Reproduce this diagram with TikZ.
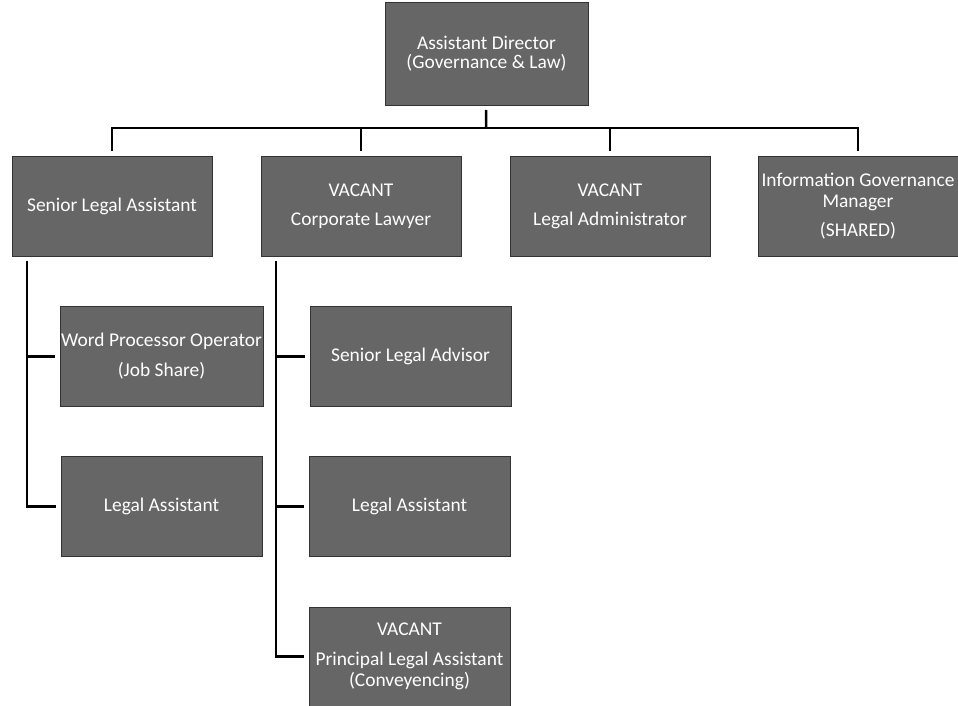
\documentclass[tikz,border=0pt]{standalone}
\usepackage{fontspec}
\setmainfont{Carlito}
\def \BoxW {200bp}
\def \BoxH {100bp}
\tikzstyle{post}=[
  draw=black!80,
  fill=black!60,
  text=white,
  minimum width=\BoxW,
  minimum height=\BoxH,
  inner sep=1bp,
  outer sep=5bp,
  align=center,
  font=\fontsize{19.5}{19}\selectfont
]
\tikzstyle{link}=[
  draw=black,
  line width=2.5bp
]

\begin{document}
\begin{tikzpicture}[x=1bp,y=-1bp]
          \useasboundingbox (0,0) rectangle (958,706);
          \def \yA {206}
          \def \yB {356.5}
          \def \yC {506.5}
          \def \yD {656.5}

          % head of the team
          \node[post, minimum width=203bp, minimum height=103bp] (ad) at (486.5, 53.5)
            {Assistant Director\\(Governance \& Law)};

          % first row
          \node[post] (sla) at (112, \yA) {Senior Legal Assistant};
          \node[post] (cl) at (361, \yA) {VACANT\\[10bp]Corporate Lawyer};
          \node[post] (lad) at (610, \yA) {VACANT\\[10bp]Legal Administrator};
          \node[post] (igm) at (858, \yA) {Information Governance\\[2bp]Manager\\[10bp](SHARED)};

          % under the senior legal assistant
          \node[post, minimum width=201bp] (wpo) at (161.5, \yB) {Word Processor Operator\\[11bp](Job Share)};
          \node[post, minimum width=201bp] (la1) at (161.5, \yC) {Legal Assistant};

          % under the corporate lawyer
          \node[post, minimum width=201bp] (slad) at (410.5, \yB) {Senior Legal Advisor};
          \node[post, minimum width=201bp] (la2) at (409.5, \yC) {Legal Assistant};
          \node[post, minimum width=201bp, minimum height=99bp] (pla) at (409.5, \yD)
            {VACANT\\[11bp]Principal Legal Assistant\\[2bp](Conveyencing)};

          \coordinate (hub) at (486, 128);
          \draw[link] (ad) -- (hub);
          \foreach \n in {sla,cl,lad,igm}{
            \draw[link] (hub) -| (\n.north);
          }

          \foreach \n in {wpo,la1}{
            \draw[link] ([xshift=20bp]sla.south west) |- (\n.west);
          }
          \foreach \n in {slad,la2,pla}{
            \draw[link] ([xshift=20bp]cl.south west) |- (\n.west);
          }
        \end{tikzpicture}
\end{document}
